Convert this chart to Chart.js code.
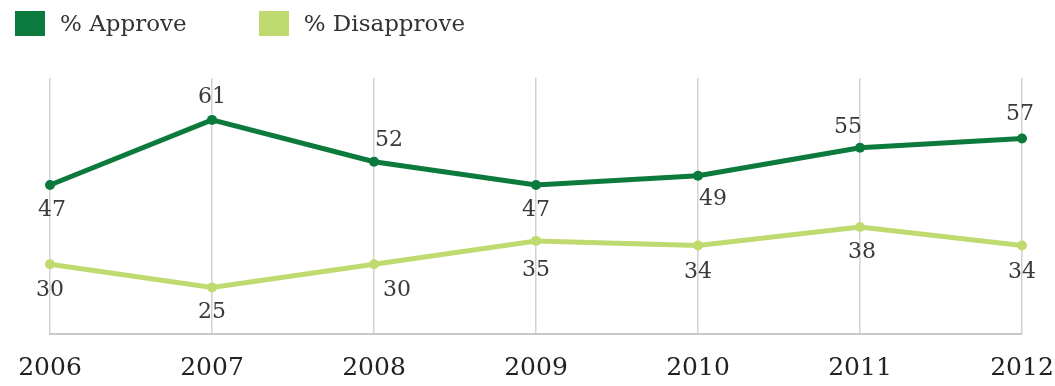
<!DOCTYPE html>
<html lang="en">
<head>
    <meta charset="UTF-8">
    <title>Approve / Disapprove</title>
    <script src="https://cdn.jsdelivr.net/npm/chart.js"></script>
    <style>
        html, body { margin: 0; padding: 0; background: #fff; }
        #wrap { width: 1055px; height: 386px; position: relative; }
        .legend { position: absolute; top: 10px; left: 15px; display: flex;
                  font-family: 'DejaVu Serif', 'Liberation Serif', serif; font-size: 23px; color: #333; }
        .legend span.item { display: flex; align-items: center; margin-right: 72px; }
        .legend span.box { width: 30px; height: 25px; margin-right: 15px; display: inline-block; }
    </style>
</head>
<body>

<div id="wrap">
    <div class="legend" id="legend"></div>
    <canvas id="approvalChart"></canvas>
</div>

<script>
    // Data
    const years = ['2006', '2007', '2008', '2009', '2010', '2011', '2012'];
    const approve = [47, 61, 52, 47, 49, 55, 57];
    const disapprove = [30, 25, 30, 35, 34, 38, 34];

    // Colors
    const approveColor = '#0b7a3c';
    const disapproveColor = '#bfdb70';
    const textColor = '#3a3a3a';
    const serif = "'DejaVu Serif', 'Liberation Serif', serif";

    // Where each value label sits relative to its point: [dx, dy]
    const approvePlace = [[2, 25], [0, -23], [15, -22], [0, 25], [15, 24], [-12, -21], [-2, -24]];
    const disapprovePlace = [[0, 26], [0, 25], [23, 26], [0, 29], [0, 27], [2, 25], [0, 27]];

    // Simple value label plugin (no datalabels plugin available)
    const valueLabels = {
        id: 'valueLabels',
        afterDatasetsDraw(chart) {
            const ctx = chart.ctx;
            ctx.save();
            ctx.font = '22px ' + serif;
            ctx.fillStyle = textColor;
            ctx.textAlign = 'center';
            ctx.textBaseline = 'middle';
            chart.data.datasets.forEach((ds, i) => {
                const meta = chart.getDatasetMeta(i);
                const place = i === 0 ? approvePlace : disapprovePlace;
                meta.data.forEach((pt, j) => {
                    ctx.fillText(String(ds.data[j]), pt.x + place[j][0], pt.y + place[j][1]);
                });
            });
            ctx.restore();
        }
    };

    const ctx = document.getElementById('approvalChart').getContext('2d');
    const chart = new Chart(ctx, {
        type: 'line',
        data: {
            labels: years,
            datasets: [{
                label: '% Approve',
                data: approve,
                borderColor: approveColor,
                backgroundColor: approveColor,
                borderWidth: 5,
                pointRadius: 5,
                pointBorderWidth: 0,
                tension: 0
            }, {
                label: '% Disapprove',
                data: disapprove,
                borderColor: disapproveColor,
                backgroundColor: disapproveColor,
                borderWidth: 5,
                pointRadius: 5,
                pointBorderWidth: 0,
                tension: 0
            }]
        },
        options: {
            responsive: true,
            maintainAspectRatio: false,
            animation: false,
            layout: {
                padding: { left: 50, right: 33, top: 78, bottom: 0 }
            },
            scales: {
                x: {
                    offset: false,
                    grid: { color: '#d2d2d2', lineWidth: 1.5, drawTicks: false },
                    border: { color: '#c8c8c8', width: 2 },
                    ticks: {
                        color: '#222',
                        padding: 19,
                        maxRotation: 0,
                        autoSkip: false,
                        font: { family: serif, size: 25 }
                    },
                    afterFit(scale) {
                        // fixed axis height, and let the edge labels hang into the page margin
                        scale.height = 52;
                        scale.paddingLeft = 0;
                        scale.paddingRight = 0;
                    }
                },
                y: {
                    display: false,
                    min: 15,
                    max: 70
                }
            },
            plugins: {
                legend: { display: false },
                tooltip: { enabled: false }
            }
        },
        plugins: [valueLabels]
    });

    // HTML legend built from the datasets
    const legendEl = document.getElementById('legend');
    chart.data.datasets.forEach(ds => {
        const item = document.createElement('span');
        item.className = 'item';
        const box = document.createElement('span');
        box.className = 'box';
        box.style.background = ds.borderColor;
        item.appendChild(box);
        item.appendChild(document.createTextNode(ds.label));
        legendEl.appendChild(item);
    });
</script>

</body>
</html>
